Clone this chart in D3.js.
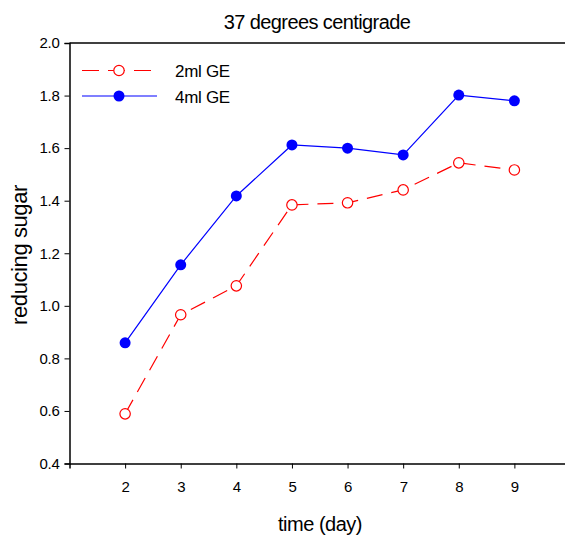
<!DOCTYPE html>
<html><head><meta charset="utf-8">
<script src="https://cdn.jsdelivr.net/npm/d3@7"></script>
<style>body{margin:0;background:#fff}svg{display:block;font-family:"Liberation Sans",Arial,sans-serif}</style>
</head><body>
<svg id="c" width="565" height="537"></svg>
<script>
const days = [2,3,4,5,6,7,8,9];
const ge2 = [0.589,0.966,1.076,1.384,1.392,1.441,1.544,1.517];
const ge4 = [0.859,1.156,1.418,1.612,1.600,1.574,1.802,1.780];
const xTicks = [2,3,4,5,6,7,8,9];
const yTicks = [0.4,0.6,0.8,1.0,1.2,1.4,1.6,1.8,2.0];

const svg = d3.select("#c");
const x = d3.scaleLinear().domain([1,10]).range([69.5,570]);
const y = d3.scaleLinear().domain([0.4,2.0]).range([463.5,43]);

const xa = svg.append("g").attr("transform","translate(0,463.5)")
  .call(d3.axisBottom(x).tickValues(xTicks).tickSize(5).tickPadding(13).tickFormat(d3.format("d")));
const ya = svg.append("g").attr("transform","translate(69.5,0)")
  .call(d3.axisLeft(y).tickValues(yTicks).tickSize(5).tickPadding(5).tickFormat(d3.format(".1f")));
[xa,ya].forEach(a=>{a.select(".domain").attr("stroke","#000").attr("stroke-width",1.5);
  a.selectAll(".tick line").attr("stroke","#000").attr("stroke-width",1);
  a.selectAll("text").attr("font-size",15).attr("fill","#000").attr("letter-spacing",-0.3).attr("font-family","Liberation Sans, Arial, sans-serif");});
svg.append("line").attr("x1",x(1)).attr("x2",x(10)).attr("y1",y(2.0)).attr("y2",y(2.0)).attr("stroke","#000").attr("stroke-width",1.5);

const line = d3.line().x((d,i)=>x(days[i])).y(d=>y(d));
svg.append("path").datum(ge2).attr("d",line).attr("fill","none").attr("stroke","#ff0000").attr("stroke-width",1.2).attr("stroke-dasharray","16,9");
svg.append("path").datum(ge4).attr("d",line).attr("fill","none").attr("stroke","#0000ff").attr("stroke-width",1.2);
svg.selectAll(".p2").data(ge2).enter().append("circle").attr("cx",(d,i)=>x(days[i])).attr("cy",d=>y(d)).attr("r",5.2).attr("fill","#fff").attr("stroke","#ff0000").attr("stroke-width",1.2);
svg.selectAll(".p4").data(ge4).enter().append("circle").attr("cx",(d,i)=>x(days[i])).attr("cy",d=>y(d)).attr("r",5.5).attr("fill","#0000ff");

const lg = svg.append("g");
lg.append("line").attr("x1",82).attr("x2",157).attr("y1",70.5).attr("y2",70.5).attr("stroke","#ff0000").attr("stroke-width",1.2).attr("stroke-dasharray","17,9");
lg.append("circle").attr("cx",119).attr("cy",70.5).attr("r",5.2).attr("fill","#fff").attr("stroke","#ff0000").attr("stroke-width",1.2);
lg.append("line").attr("x1",82).attr("x2",157).attr("y1",96).attr("y2",96).attr("stroke","#0000ff").attr("stroke-width",1.2);
lg.append("circle").attr("cx",119).attr("cy",96).attr("r",5.5).attr("fill","#0000ff");
lg.append("text").attr("x",175).attr("y",77).attr("font-size",17).attr("letter-spacing",-0.3).text("2ml GE");
lg.append("text").attr("x",175).attr("y",103).attr("font-size",17).attr("letter-spacing",-0.3).text("4ml GE");

svg.append("text").attr("x",317).attr("y",29).attr("text-anchor","middle").attr("font-size",20).attr("letter-spacing",-0.6).text("37 degrees centigrade");
svg.append("text").attr("x",320).attr("y",531).attr("text-anchor","middle").attr("font-size",20).attr("letter-spacing",-0.5).text("time (day)");
svg.append("text").attr("transform","translate(27,255) rotate(-90)").attr("text-anchor","middle").attr("font-size",22).attr("letter-spacing",-0.4).text("reducing sugar");
</script>
</body></html>
